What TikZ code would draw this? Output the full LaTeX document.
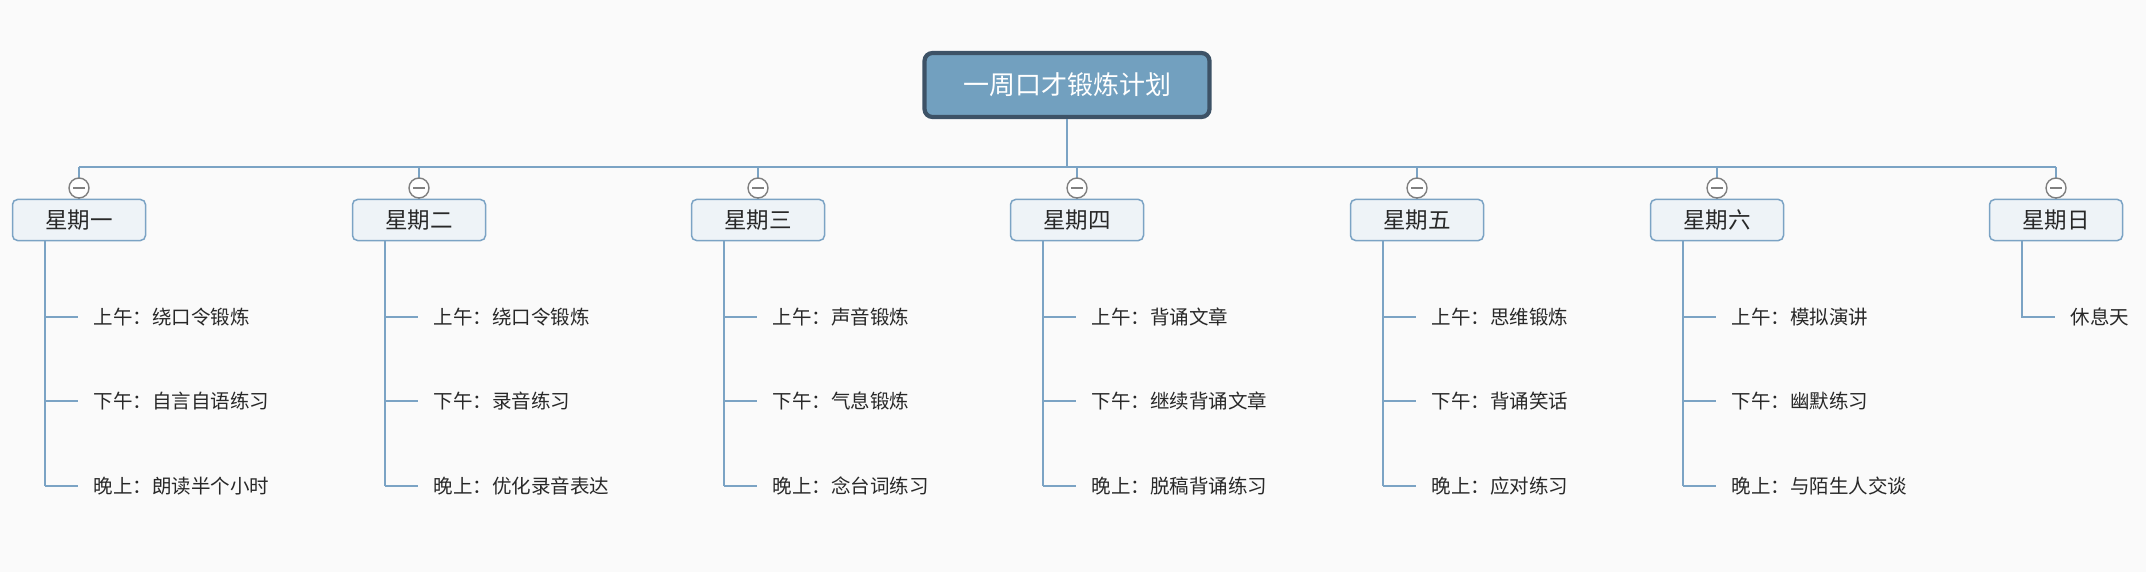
\documentclass[tikz,border=0pt]{standalone}
\usepackage{fontspec}
\newfontfamily\cjk{Noto Sans CJK SC}
\definecolor{bg}{RGB}{250,250,250}
\definecolor{ln}{RGB}{123,163,196}
\definecolor{rootf}{RGB}{114,160,191}
\definecolor{rootd}{RGB}{61,82,102}
\definecolor{dayf}{RGB}{238,243,247}
\definecolor{tx}{RGB}{40,40,40}
\begin{document}
\begin{tikzpicture}[x=1pt,y=-1pt,
  rootbox/.style={draw=rootd,line width=4.2pt,fill=rootf,rounded corners=8pt,minimum width=285,minimum height=64,text=white,font=\cjk\fontsize{26pt}{28pt}\selectfont,inner sep=0},
  daybox/.style={draw=ln,line width=1.5pt,fill=dayf,rounded corners=5pt,minimum width=133,minimum height=41,text=tx,font=\cjk\fontsize{22.5pt}{24pt}\selectfont,inner sep=0},
  leaf/.style={anchor=west,text=tx,font=\cjk\fontsize{19.5pt}{21pt}\selectfont,inner sep=0},
  conn/.style={draw=ln,line width=1.6pt},
  fold/.style={circle,draw=gray,fill=white,line width=1.4pt,minimum size=20,inner sep=0}]
\fill[bg] (0,0) rectangle (2146,572);
\node[rootbox] (root) at (1067,85) {一周口才锻炼计划};
\coordinate (busL) at (79,167);
\coordinate (busR) at (2056,167);
\coordinate (busM) at (1067,167);
\draw[conn] (root.south) -- (busM);
\draw[conn] (busL) -- (busR);
\def\days{79/星期一/a,419/星期二/b,758/星期三/c,1077/星期四/d,1417/星期五/e,1717/星期六/f,2056/星期日/g}
\foreach \x/\t/\n in \days {
  \node[daybox] (d\n) at (\x,220) {\t};
  \coordinate (t\n) at (\x,167);
  \draw[conn] (t\n) -- (d\n.north);
  \node[fold] (f\n) at (\x,188) {};
  \draw[gray,line width=1.6pt] ([xshift=-6pt]f\n.center) -- ([xshift=6pt]f\n.center);
}
\foreach \n/\a/\b/\c in {a/绕口令锻炼/自言自语练习/朗读半个小时, b/绕口令锻炼/录音练习/优化录音表达, c/声音锻炼/气息锻炼/念台词练习, d/背诵文章/继续背诵文章/脱稿背诵练习, e/思维锻炼/背诵笑话/应对练习, f/模拟演讲/幽默练习/与陌生人交谈} {
  \coordinate (v\n) at ([xshift=33pt]d\n.south west);
  \coordinate (e\n) at ([xshift=33pt,yshift=-245pt]d\n.south west);
  \draw[conn] (v\n) -- (e\n);
  \foreach \yy/\lab/\k in {76/上午：\a/1,160/下午：\b/2,245/晚上：\c/3} {
    \coordinate (h\n\k) at ([xshift=33pt,yshift=-\yy pt]d\n.south west);
    \coordinate (hh\n\k) at ([xshift=66pt,yshift=-\yy pt]d\n.south west);
    \draw[conn] (h\n\k) -- (hh\n\k);
    \node[leaf] (l\n\k) at ([xshift=82pt,yshift=-\yy pt]d\n.south west) {\lab};
  }
}
\coordinate (vg) at ([xshift=33pt]dg.south west);
\coordinate (eg) at ([xshift=33pt,yshift=-76pt]dg.south west);
\coordinate (hg) at ([xshift=66pt,yshift=-76pt]dg.south west);
\draw[conn] (vg) -- (eg) -- (hg);
\node[leaf] (lg1) at ([xshift=82pt,yshift=-76pt]dg.south west) {休息天};
\end{tikzpicture}
\end{document}
